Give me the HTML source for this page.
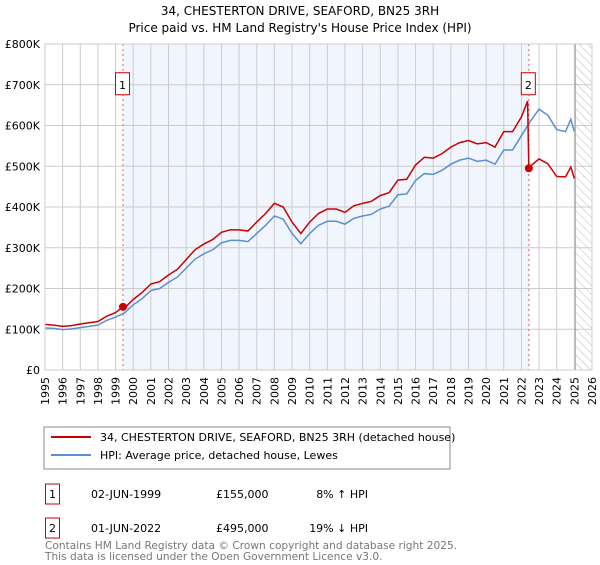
<!DOCTYPE html>
<html><head><meta charset="utf-8"><style>
body{margin:0;background:#fff;font-family:"Liberation Sans","DejaVu Sans",sans-serif;}
</style></head><body>
<svg width="600" height="560" viewBox="0 0 600 560" xmlns="http://www.w3.org/2000/svg" font-family="DejaVu Sans, Liberation Sans, sans-serif">
<text x="300" y="15" text-anchor="middle" font-size="12">34, CHESTERTON DRIVE, SEAFORD, BN25 3RH</text>
<text x="300" y="32" text-anchor="middle" font-size="12">Price paid vs. HM Land Registry's House Price Index (HPI)</text>
<g id="plot"></g>
<rect x="44" y="427" width="406" height="42" fill="#fff" stroke="#888"/>
<line x1="51" y1="437" x2="91" y2="437" stroke="#cc0000" stroke-width="2"/>
<text x="100" y="441" font-size="11">34, CHESTERTON DRIVE, SEAFORD, BN25 3RH (detached house)</text>
<line x1="51" y1="455" x2="91" y2="455" stroke="#5b8fd0" stroke-width="2"/>
<text x="100" y="459" font-size="11">HPI: Average price, detached house, Lewes</text>
<g font-size="11">
<rect x="45.5" y="484" width="14" height="20" fill="none" stroke="#cc0000"/>
<text x="52.5" y="498" text-anchor="middle">1</text>
<text x="91" y="498">02-JUN-1999</text>
<text x="216" y="498">£155,000</text>
<text x="368" y="498" text-anchor="end">8% ↑ HPI</text>
<rect x="45.5" y="518" width="14" height="20" fill="none" stroke="#cc0000"/>
<text x="52.5" y="532" text-anchor="middle">2</text>
<text x="91" y="532">01-JUN-2022</text>
<text x="216" y="532">£495,000</text>
<text x="368" y="532" text-anchor="end">19% ↓ HPI</text>
</g>
<text x="45" y="549" font-size="10.6" fill="#777">Contains HM Land Registry data © Crown copyright and database right 2025.</text>
<text x="45" y="560" font-size="10.6" fill="#777">This data is licensed under the Open Government Licence v3.0.</text>
</svg>
<script>
const yearTicks=[1995,1996,1997,1998,1999,2000,2001,2002,2003,2004,2005,2006,2007,2008,2009,2010,2011,2012,2013,2014,2015,2016,2017,2018,2019,2020,2021,2022,2023,2024,2025,2026];
const valueTicks=[0,100,200,300,400,500,600,700,800];
const valueTickLabels=["£0","£100K","£200K","£300K","£400K","£500K","£600K","£700K","£800K"];
const hpiYears=[1995,1995.5,1996,1996.5,1997,1997.5,1998,1998.5,1999,1999.5,2000,2000.5,2001,2001.5,2002,2002.5,2003,2003.5,2004,2004.5,2005,2005.5,2006,2006.5,2007,2007.5,2008,2008.5,2009,2009.5,2010,2010.5,2011,2011.5,2012,2012.5,2013,2013.5,2014,2014.5,2015,2015.5,2016,2016.5,2017,2017.5,2018,2018.5,2019,2019.5,2020,2020.5,2021,2021.5,2022,2022.5,2023,2023.5,2024,2024.5,2024.8,2025];
const hpiValues=[103,102,99,101,104,107,110,122,130,140,160,175,195,200,215,228,250,272,285,295,312,318,318,315,335,355,378,370,335,310,335,355,365,365,358,372,378,382,395,402,430,432,465,482,480,490,505,515,520,512,515,505,540,540,575,610,640,625,590,585,615,585];
const propYears=[1995,1995.5,1996,1996.5,1997,1997.5,1998,1998.5,1999,1999.42,1999.5,2000,2000.5,2001,2001.5,2002,2002.5,2003,2003.5,2004,2004.5,2005,2005.5,2006,2006.5,2007,2007.5,2008,2008.5,2009,2009.5,2010,2010.5,2011,2011.5,2012,2012.5,2013,2013.5,2014,2014.5,2015,2015.5,2016,2016.5,2017,2017.5,2018,2018.5,2019,2019.5,2020,2020.5,2021,2021.5,2022,2022.35,2022.42,2022.5,2023,2023.5,2024,2024.5,2024.8,2025];
const propValues=[112,110,107,109,113,116,119,132,141,155,152,173,190,211,217,233,247,271,295,309,320,338,344,344,341,363,384,409,400,363,335,363,384,395,395,387,403,409,414,428,435,466,468,503,522,520,531,547,558,563,555,558,547,585,585,621,660,495,500,518,506,475,474,498,470];
const saleYears=[1999.42,2022.42];
const saleValues=[155,495];
const saleLabels=["1","2"];
const NS="http://www.w3.org/2000/svg";
const X0=45,X1=592,Y0=370,Y1=44;
function xs(y){return X0+(y-1995)/(2026-1995)*(X1-X0);}
function ys(v){return Y0-v/800*(Y0-Y1);}
const g=document.getElementById('plot');
function mk(t,a){const e=document.createElementNS(NS,t);for(const k in a)e.setAttribute(k,a[k]);g.appendChild(e);return e;}
let e=mk('rect',{x:xs(saleYears[0]),y:Y1,width:xs(saleYears[1])-xs(saleYears[0]),height:Y0-Y1,fill:'#f1f5fd'});


yearTicks.forEach((y,i)=>{
 const l=mk('line',{x1:xs(y),x2:xs(y),y1:Y1,y2:Y0,stroke:'#ccc','stroke-width':1});
 
 
 const t=mk('text',{x:0,y:0,'font-size':11,'text-anchor':'end',transform:`translate(${xs(y)+4},${Y0+7}) rotate(-90)`});
 t.textContent=y;
 
 
});
valueTicks.forEach((v,i)=>{
 const l=mk('line',{x1:X0,x2:X1,y1:ys(v),y2:ys(v),stroke:'#ccc','stroke-width':1});
 
 
 const t=mk('text',{x:X0-5,y:ys(v)+4,'font-size':11,'text-anchor':'end'});
 t.textContent=valueTickLabels[i];
 
 
});
const defs=mk('defs',{});
const pat=document.createElementNS(NS,'pattern');
pat.setAttribute('id','hatch');pat.setAttribute('width','6');pat.setAttribute('height','6');pat.setAttribute('patternUnits','userSpaceOnUse');pat.setAttribute('patternTransform','rotate(-45)');
const pl=document.createElementNS(NS,'line');pl.setAttribute('x1','0');pl.setAttribute('y1','0');pl.setAttribute('x2','0');pl.setAttribute('y2','6');pl.setAttribute('stroke','#bbb');pat.appendChild(pl);defs.appendChild(pat);
e=mk('rect',{x:xs(2025.05),y:Y1,width:X1-xs(2025.05),height:Y0-Y1,fill:'url(#hatch)',stroke:'#999'});


saleYears.forEach((y,i)=>{
 const l=mk('line',{x1:xs(y),x2:xs(y),y1:Y1,y2:Y0,stroke:'#e06060','stroke-dasharray':'2,3'});
 
 
});
e=mk('polyline',{points:hpiYears.map((y,i)=>xs(y)+','+ys(hpiValues[i])).join(' '),fill:'none',stroke:'#5b8fd0','stroke-width':1.5});


e=mk('polyline',{points:propYears.map((y,i)=>xs(y)+','+ys(propValues[i])).join(' '),fill:'none',stroke:'#cc0000','stroke-width':1.5});


saleYears.forEach((y,i)=>{
 const c=mk('circle',{cx:xs(y),cy:ys(saleValues[i]),r:4,fill:'#cc0000'});
 
 
 const r=mk('rect',{x:xs(y)-7.5,y:ys(700)-12,width:14,height:22,fill:'#fff',stroke:'#cc0000'});
 
 
 const t=mk('text',{x:xs(y)-0.5,y:ys(700)+4,'font-size':11,'text-anchor':'middle'});
 t.textContent=saleLabels[i];
 
 
});
e=mk('rect',{x:X0,y:Y1,width:X1-X0,height:Y0-Y1,fill:'none',stroke:'#ccc'});


</script>
</body></html>
